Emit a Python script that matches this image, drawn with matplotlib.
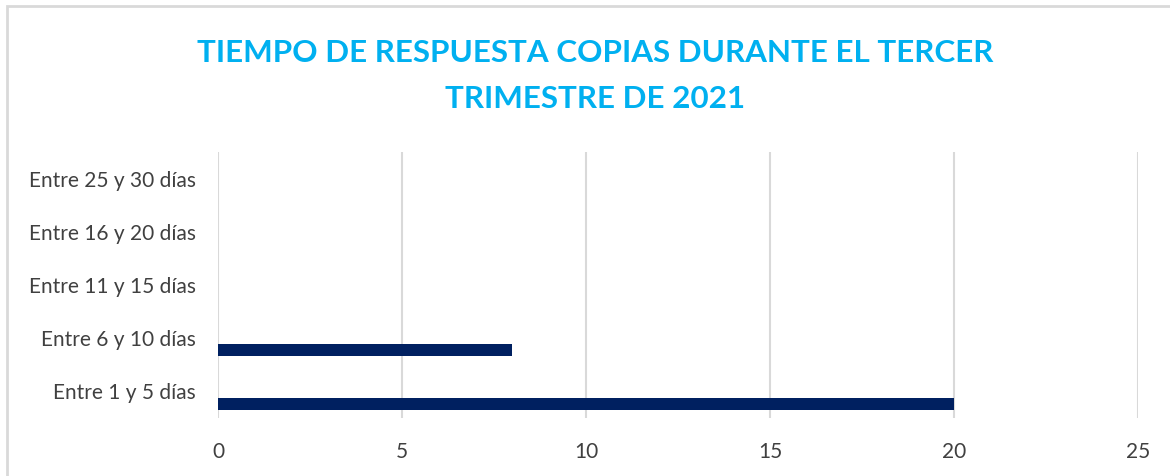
import matplotlib.pyplot as plt
from matplotlib.patches import Rectangle

# datos del gráfico
categorias = ["Entre 1 y 5 días", "Entre 6 y 10 días", "Entre 11 y 15 días",
              "Entre 16 y 20 días", "Entre 25 y 30 días"]
valores = [20, 8, 0, 0, 0]
xticks = [0, 5, 10, 15, 20, 25]
titulo = "TIEMPO DE RESPUESTA COPIAS DURANTE EL TERCER\nTRIMESTRE DE 2021"

plt.rcParams['font.family'] = ['Lato', 'DejaVu Sans']

W, H = 1170, 476
fig = plt.figure(figsize=(W / 100, H / 100), dpi=100)

# ejes ubicados en pixeles
left, right, top, bottom = 218, 1138, 152, 418
ax = fig.add_axes([left / W, 1 - bottom / H, (right - left) / W, (bottom - top) / H])

pos = list(range(len(categorias)))
offset = 0.23
ax.barh([p - offset for p in pos], valores, height=0.225, color="#002060", zorder=3)

ax.set_xlim(0, 25)
ax.set_ylim(-0.5, len(categorias) - 0.5)
ax.set_xticks(xticks)
ax.set_yticks(pos)
ax.set_yticklabels(categorias)
ax.grid(axis="x", color="#d9d9d9", linewidth=1.5, zorder=0)
for s in ax.spines.values():
    s.set_visible(False)
ax.tick_params(axis="both", length=0, labelsize=15, colors="#404040")
ax.tick_params(axis="x", pad=17)
ax.tick_params(axis="y", pad=16)

fig.text(595 / W, 1 - 76 / H, titulo, ha="center", va="center", fontsize=22.6,
         fontweight="bold", color="#00B0F0", linespacing=1.75)

# borde del area del grafico
fig.patches.append(Rectangle((6.5 / W, -0.05), 1.2, 1 - 6.5 / H + 0.05, transform=fig.transFigure,
                             fill=False, edgecolor="#d9d9d9", linewidth=2))

fig.savefig("out.png", dpi=100)
